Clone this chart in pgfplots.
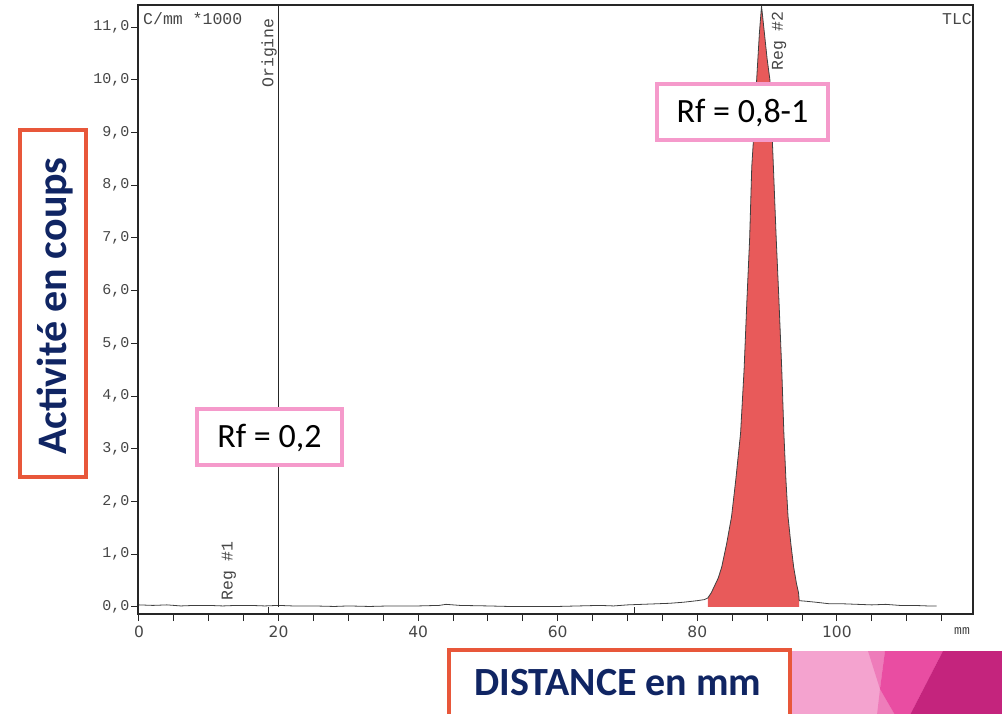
\documentclass[border=0pt]{standalone}
\usepackage{fontspec}
\setmainfont{Carlito}
\newfontfamily\mono{Liberation Mono}
\newfontfamily\dejavu{DejaVu Sans}
\usepackage{pgfplots}
\pgfplotsset{compat=1.18}

\definecolor{peakred}{RGB}{232,90,90}
\definecolor{rfpink}{RGB}{245,154,203}
\definecolor{boxorange}{RGB}{232,87,58}
\definecolor{navy}{RGB}{16,37,99}
\definecolor{decoA}{RGB}{244,163,207}
\definecolor{decoB}{RGB}{238,124,186}
\definecolor{decoC}{RGB}{233,77,162}
\definecolor{decoD}{RGB}{196,36,125}
\definecolor{txtgray}{RGB}{70,70,70}

% radio-TLC trace (mm, counts/mm *1000)
\pgfplotstableread{
x y
0 0.04
2 0.03
4 0.04
6 0.02
8 0.03
10 0.03
12 0.02
14 0.03
16 0.03
18 0.02
20 0.03
22 0.02
25 0.02
28 0.01
30 0.02
33 0.01
36 0.02
40 0.02
43 0.03
44 0.05
46 0.03
50 0.02
53 0.01
56 0.01
60 0.01
63 0.02
66 0.03
68 0.02
70 0.04
72 0.05
74 0.06
76 0.07
78 0.09
80 0.12
81 0.14
81.5 0.17
82.0 0.27
83.0 0.55
83.5 0.76
84.2 1.2
84.9 1.71
85.5 2.4
86.2 3.3
86.7 4.5
87.1 5.8
87.5 7.0
87.8 8.35
88.2 9.2
88.5 10.0
88.9 10.9
89.2 11.4
89.6 10.9
90.0 10.4
90.4 10.0
90.9 8.35
91.3 7.0
91.7 5.8
92.1 4.5
92.4 3.3
92.7 2.4
93.0 1.71
93.4 1.2
93.8 0.76
94.2 0.45
94.5 0.27
94.6 0.12
95.5 0.11
97 0.09
99 0.06
101 0.06
103 0.05
105 0.04
107 0.05
109 0.03
111 0.03
113 0.02
114.3 0.02
}\trace

% integrated region (Reg #2)
\pgfplotstableread{
x y
81.5 0
81.5 0.17
82.0 0.27
83.0 0.55
83.5 0.76
84.2 1.2
84.9 1.71
85.5 2.4
86.2 3.3
86.7 4.5
87.1 5.8
87.5 7.0
87.8 8.35
88.2 9.2
88.5 10.0
88.9 10.9
89.2 11.4
89.6 10.9
90.0 10.4
90.4 10.0
90.9 8.35
91.3 7.0
91.7 5.8
92.1 4.5
92.4 3.3
92.7 2.4
93.0 1.71
93.4 1.2
93.8 0.76
94.2 0.45
94.5 0.27
94.6 0.12
94.6 0
}\peak

\begin{document}
\begin{tikzpicture}
\begin{axis}[
    at={(138pt,99pt)}, anchor=south west,
    scale only axis, width=835pt, height=609pt,
    xmin=-0.14, xmax=119.5, ymin=-0.133, ymax=11.42,
    axis line style={line width=1.2pt, draw=black!85},
    tick pos=left, tick align=outside,
    tick style={line width=1pt, black!85},
    xtick={0,20,40,60,80,100},
    xticklabels={0,20,40,60,80,100},
    minor xtick={5,10,15,25,30,35,45,50,55,65,70,75,85,90,95,105,110,115},
    major tick length=7pt, minor tick length=7pt,
    ytick={0,1,...,11},
    yticklabels={{0,0},{1,0},{2,0},{3,0},{4,0},{5,0},{6,0},{7,0},{8,0},{9,0},{10,0},{11,0}},
    xticklabel style={font=\dejavu\fontsize{15.5}{15.5}\selectfont, text=txtgray, yshift=-1pt},
    yticklabel style={font=\mono\fontsize{15}{15}\selectfont, text=txtgray, xshift=2pt},
    clip=false,
]
\addplot[fill=peakred, draw=none] table {\peak} -- cycle;
\addplot[line width=0.8pt, black!75] table {\trace};
% origin line and region markers
\addplot[line width=1pt, black!85] coordinates {(20,0) (20,11.42)};
\addplot[line width=1pt, black!85] coordinates {(18.6,-0.133) (18.6,0)};
\addplot[line width=1pt, black!85] coordinates {(71,-0.133) (71,0)};
\end{axis}

% texts inside the scan
\node[anchor=west, font=\mono\fontsize{16.5}{16.5}\selectfont, text=txtgray, inner sep=0pt] at (143pt,694pt) {C/mm *1000};
\node[anchor=east, font=\mono\fontsize{16.5}{16.5}\selectfont, text=txtgray, inner sep=0pt] at (972pt,694pt) {TLC};
\node[rotate=90, font=\mono\fontsize{16.5}{16.5}\selectfont, text=txtgray, inner sep=0pt] at (269pt,660pt) {Origine};
\node[rotate=90, font=\mono\fontsize{16.5}{16.5}\selectfont, text=txtgray, inner sep=0pt] at (229pt,142pt) {Reg \#1};
\node[rotate=90, font=\mono\fontsize{16.5}{16.5}\selectfont, text=txtgray, inner sep=0pt] at (779pt,672pt) {Reg \#2};
\node[font=\mono\fontsize{13}{13}\selectfont, text=txtgray, inner sep=0pt] at (962pt,82pt) {mm};

% Rf boxes
\draw[rfpink, line width=3.5pt, fill=white] (197pt,304pt) rectangle (342pt,248pt);
\node[font=\fontsize{34}{34}\selectfont, inner sep=0pt] at (269.5pt,275pt) {Rf = 0,2};
\draw[rfpink, line width=3.5pt, fill=white] (657pt,629pt) rectangle (828pt,573pt);
\node[font=\fontsize{34}{34}\selectfont, inner sep=0pt] at (742.5pt,600pt) {Rf = 0,8-1};

% axis titles
\draw[boxorange, line width=3.5pt, fill=white] (20pt,583pt) rectangle (86pt,236pt);
\node[rotate=90, font=\bfseries\fontsize{42}{42}\selectfont, text=navy, inner sep=0pt] at (55pt,407pt) {Activité en coups};

% decoration
\fill[decoA] (789pt,62pt) rectangle (1002pt,-2pt);
\fill[decoB] (868pt,62pt) -- (885pt,62pt) -- (880pt,24pt) -- (895pt,-2pt) -- (877pt,-2pt) -- (880pt,24pt) -- cycle;
\fill[decoC] (885pt,62pt) -- (943pt,62pt) -- (910pt,-2pt) -- (895pt,-2pt) -- (880pt,24pt) -- cycle;
\fill[decoD] (943pt,62pt) -- (1002pt,62pt) -- (1002pt,-2pt) -- (910pt,-2pt) -- cycle;
\draw[boxorange, line width=3.5pt, fill=white] (449pt,63pt) rectangle (790pt,-8pt);
\node[font=\bfseries\fontsize{40}{40}\selectfont, text=navy, inner sep=0pt] at (618pt,30.5pt) {DISTANCE en mm};

\pgfresetboundingbox
\useasboundingbox (0,0) rectangle (1002pt,713pt);
\end{tikzpicture}
\end{document}
